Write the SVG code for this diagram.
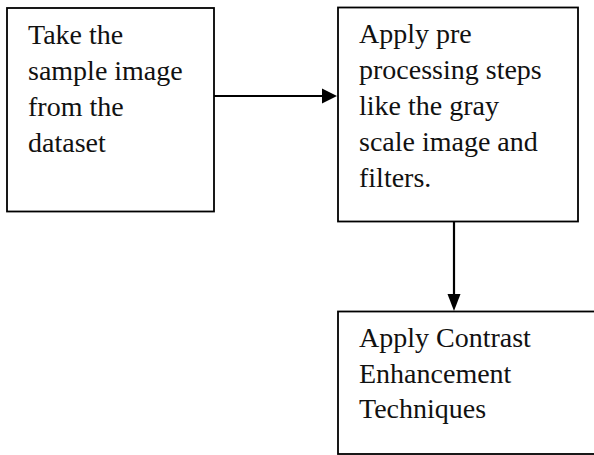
<svg xmlns="http://www.w3.org/2000/svg" width="594" height="455" viewBox="0 0 594 455">
<style>
.box{fill:#fff;stroke:#000;stroke-width:1.8}
.t{font-family:"Liberation Serif",serif;font-size:28px;fill:#111}
.c{stroke:#000;stroke-width:2.2;fill:none}
</style>
<rect width="594" height="455" fill="#fff"/>
<g id="n1">
<rect class="box" x="7" y="8" width="207" height="203.5"/>
<text class="t" x="28" y="44">Take the</text>
<text class="t" x="28" y="80">sample image</text>
<text class="t" x="28" y="116">from the</text>
<text class="t" x="28" y="152">dataset</text>
</g>
<g id="n2">
<rect class="box" x="338" y="7.5" width="240" height="214"/>
<text class="t" x="359" y="43">Apply pre</text>
<text class="t" x="359" y="79">processing steps</text>
<text class="t" x="359" y="115">like the gray</text>
<text class="t" x="359" y="151">scale image and</text>
<text class="t" x="359" y="187">filters.</text>
</g>
<g id="n3">
<rect class="box" x="338" y="311.5" width="280" height="142.5"/>
<text class="t" x="359" y="347">Apply Contrast</text>
<text class="t" x="359" y="383">Enhancement</text>
<text class="t" x="359" y="418">Techniques</text>
</g>
<g id="connectors">
<line class="c" x1="214" y1="96" x2="324" y2="96"/>
<polygon points="322,88.5 337,96 322,103.5" fill="#000"/>
<line class="c" x1="454" y1="221.5" x2="454" y2="296"/>
<polygon points="447.5,294 460.5,294 454,311" fill="#000"/>
</g>
</svg>
